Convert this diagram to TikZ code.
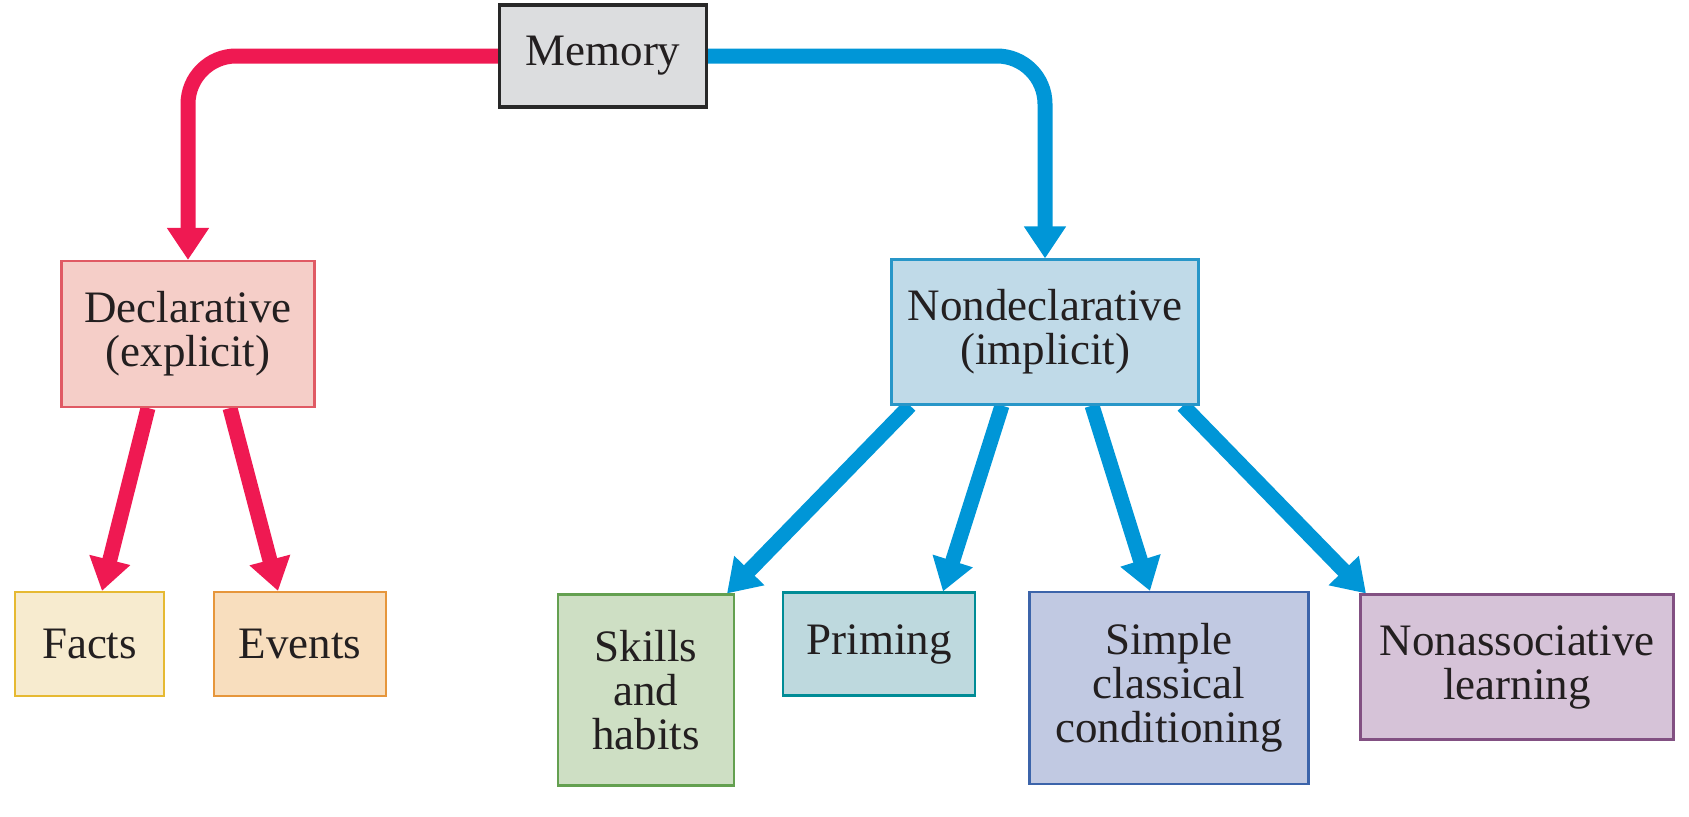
\documentclass[tikz,border=0pt]{standalone}
\usepackage{fontspec}
\setmainfont{Liberation Serif}
\usetikzlibrary{arrows.meta,backgrounds}
\definecolor{ink}{RGB}{35,31,32}
\definecolor{declred}{RGB}{239,25,82}
\definecolor{nondblue}{RGB}{0,150,215}
\begin{document}
\begin{tikzpicture}[font=\fontsize{12.8}{12.5}\selectfont,
    box/.style={draw, line width=0.6pt, align=center, inner sep=0pt, text=ink},
    redarr/.style={draw=declred, line width=0.15cm, -{Triangle[length=0.32cm,width=0.40cm]}},
    bluearr/.style={draw=nondblue, line width=0.15cm, -{Triangle[length=0.32cm,width=0.40cm]}}]
    \useasboundingbox (0,0) rectangle (16.89,8.16);
    \node[box, line width=0.9pt, draw={rgb,255:red,40;green,40;blue,40}, fill={rgb,255:red,220;green,221;blue,223}, minimum width=2.07cm, minimum height=1.02cm] (mem) at (6.03,7.60) {Memory};
    \node[box, draw={rgb,255:red,224;green,90;blue,100}, fill={rgb,255:red,245;green,206;blue,200}, minimum width=2.53cm, minimum height=1.46cm] (decl) at (1.88,4.82) {Declarative\\(explicit)};
    \node[box, draw={rgb,255:red,40;green,150;blue,200}, fill={rgb,255:red,192;green,218;blue,232}, minimum width=3.07cm, minimum height=1.45cm] (nond) at (10.45,4.84) {Nondeclarative\\(implicit)};
    \node[box, draw={rgb,255:red,230;green,185;blue,50}, fill={rgb,255:red,247;green,235;blue,207}, minimum width=1.49cm, minimum height=1.04cm] (facts) at (0.895,1.72) {Facts};
    \node[box, draw={rgb,255:red,230;green,150;blue,60}, fill={rgb,255:red,248;green,222;blue,190}, minimum width=1.72cm, minimum height=1.04cm] (events) at (3.00,1.72) {Events};
    \node[box, draw={rgb,255:red,100;green,160;blue,80}, fill={rgb,255:red,206;green,223;blue,196}, minimum width=1.76cm, minimum height=1.91cm] (skills) at (6.46,1.26) {Skills\\and\\habits};
    \node[box, draw={rgb,255:red,0;green,140;blue,150}, fill={rgb,255:red,190;green,217;blue,222}, minimum width=1.92cm, minimum height=1.03cm] (prim) at (8.79,1.72) {Priming};
    \node[box, draw={rgb,255:red,60;green,100;blue,170}, fill={rgb,255:red,193;green,201;blue,226}, minimum width=2.79cm, minimum height=1.92cm] (simple) at (11.69,1.28) {Simple\\classical\\conditioning};
    \node[box, draw={rgb,255:red,130;green,80;blue,130}, fill={rgb,255:red,214;green,195;blue,216}, minimum width=3.13cm, minimum height=1.45cm] (nonassoc) at (15.17,1.49) {Nonassociative\\learning};
    \begin{scope}[on background layer]
      \draw[redarr, rounded corners=0.48cm] (mem.west) -| (decl.north);
      \draw[bluearr, rounded corners=0.48cm] (mem.east) -| (nond.north);
      \foreach \a/\v/\b in {-0.40/facts/0.125, 0.42/events/-0.22} { \draw[redarr] ([xshift=\a cm]decl.south) -- ([xshift=\b cm]\v.north); }
      \foreach \a/\v/\b in {-1.35/skills/0.81, -0.43/prim/0.64, 0.47/simple/-0.19, 1.38/nonassoc/-1.51} { \draw[bluearr] ([xshift=\a cm]nond.south) -- ([xshift=\b cm]\v.north); }
    \end{scope}
  \end{tikzpicture}
\end{document}
